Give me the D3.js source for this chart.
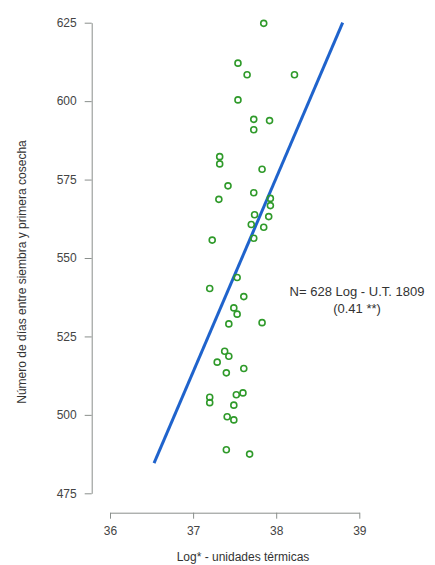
<!DOCTYPE html>
<html>
<head>
<meta charset="utf-8">
<script src="https://cdn.jsdelivr.net/npm/d3@7"></script>
<style>
  body { margin: 0; background: #fff; }
  .axis text { font-family: "Liberation Sans", Arial, sans-serif; font-size: 12px; fill: #444; }
  .axis path, .axis line { stroke: #8a8f8c; stroke-width: 1; }
  .lbl { font-family: "Liberation Sans", Arial, sans-serif; font-size: 12px; fill: #333; }
</style>
</head>
<body>
<div id="canvas"></div>
<script>
// data
var logUT = [37.85, 37.54, 37.65, 38.22, 37.54, 37.73, 37.92, 37.73, 37.32, 37.32,
             37.83, 37.42, 37.73, 37.31, 37.93, 37.93, 37.74, 37.91, 37.70, 37.85,
             37.73, 37.23, 37.53, 37.20, 37.61, 37.49, 37.53, 37.43, 37.83, 37.38,
             37.43, 37.29, 37.61, 37.40, 37.20, 37.20, 37.52, 37.60, 37.49, 37.41,
             37.49, 37.40, 37.68];
var dias = [624.8, 612.1, 608.4, 608.4, 600.4, 594.2, 593.8, 590.9, 582.3, 580.0,
            578.3, 573.0, 570.8, 568.7, 569.0, 566.7, 563.8, 563.2, 560.7, 559.8,
            556.3, 555.7, 543.8, 540.3, 537.7, 534.1, 532.1, 529.0, 529.4, 520.3,
            518.7, 516.8, 514.8, 513.4, 505.6, 503.9, 506.4, 507.0, 503.1, 499.4,
            498.4, 488.9, 487.5];
var fitX = [36.53, 38.80];
var fitY = [484.6, 625];
var xTicks = [36, 37, 38, 39];
var yTicks = [475, 500, 525, 550, 575, 600, 625];
var note = ['N= 628 Log - U.T. 1809', '(0.41 **)'];

var W = 435, H = 565;

var svg = d3.select('#canvas')
    .append('svg')
    .attr('width', W)
    .attr('height', H);

// Scales
var scaleX = d3.scaleLinear()
    .domain([36, 39])
    .range([110, 359.3]);
var scaleY = d3.scaleLinear()
    .domain([475, 625])
    .range([493.3, 22.7]);

// Axis
var axisX = d3.axisBottom()
    .scale(scaleX)
    .tickValues(xTicks)
    .tickFormat(d3.format('d'))
    .tickSize(6)
    .tickSizeOuter(0)
    .tickPadding(8);
var axisY = d3.axisLeft()
    .scale(scaleY)
    .tickValues(yTicks)
    .tickFormat(d3.format('d'))
    .tickSize(7)
    .tickSizeOuter(0)
    .tickPadding(8);

svg.append('g').attr('class', 'axis axis-x')
    .attr('transform', 'translate(0,512.7)')
    .call(axisX);
svg.append('g').attr('class', 'axis axis-y')
    .attr('transform', 'translate(91.7,0)')
    .call(axisY);

// axis titles
svg.append('text').attr('class', 'lbl')
    .attr('x', 243).attr('y', 561)
    .attr('text-anchor', 'middle')
    .text('Log* - unidades térmicas');
svg.append('text').attr('class', 'lbl')
    .attr('transform', 'translate(26,272) rotate(-90)')
    .attr('text-anchor', 'middle')
    .text('Número de días entre siembra y primera cosecha');

// regression line
var line = d3.line()
    .x(function(d){ return scaleX(d[0]); })
    .y(function(d){ return scaleY(d[1]); });
svg.append('path')
    .datum(d3.zip(fitX, fitY))
    .attr('d', line)
    .attr('fill', 'none')
    .attr('stroke', '#1f63cc')
    .attr('stroke-width', 3);

// points
svg.selectAll('circle')
    .data(d3.zip(logUT, dias))
    .enter()
    .append('circle')
    .attr('cx', function(d){ return scaleX(d[0]); })
    .attr('cy', function(d){ return scaleY(d[1]); })
    .attr('r', 3)
    .attr('fill', 'none')
    .attr('stroke', '#2f9a2a')
    .attr('stroke-width', 1.6);

// annotation
svg.append('text').attr('class', 'lbl')
    .attr('x', 357).attr('y', 296)
    .attr('text-anchor', 'middle')
    .style('font-size', '13px')
    .selectAll('tspan')
    .data(note)
    .enter()
    .append('tspan')
    .attr('x', 357)
    .attr('dy', function(d, i){ return i ? 17 : 0; })
    .text(function(d){ return d; });
</script>
</body>
</html>
